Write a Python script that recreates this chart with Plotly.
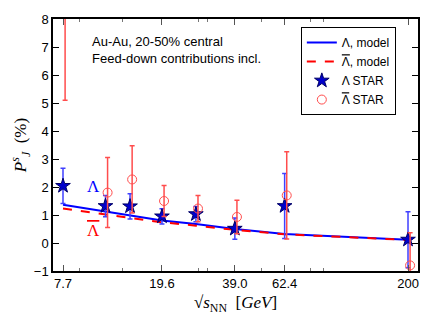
import plotly.graph_objects as go

# collision energies (GeV)
energy = [7.7, 11.5, 14.5, 19.6, 27, 39, 62.4, 200]

# model curves (%)
lam_model = [1.37, 1.12, 1.0, 0.8, 0.68, 0.5, 0.32, 0.12]
alam_model = [1.23, 1.02, 0.92, 0.74, 0.62, 0.47, 0.31, 0.11]

# STAR data (%)
lam_star = [2.04, 1.32, 1.31, 0.95, 1.03, 0.51, 1.32, 0.12]
lam_err = [0.63, 0.38, 0.45, 0.27, 0.27, 0.38, 1.16, 1.0]
alam_star = [8.7, 1.8, 2.27, 1.5, 1.23, 0.93, 1.7, -0.8]
alam_err = [3.6, 1.25, 1.2, 0.55, 0.47, 0.6, 1.56, 1.17]

tick_vals = [7.7, 19.6, 39.0, 62.4, 200]
tick_text = ["7.7", "19.6", "39.0", "62.4", "200"]
minor_vals = [9, 13.5, 27.6, 30, 50, 80, 90]

LAM_BAR = "<span style='text-decoration:overline'>\u039b</span>"

shift = 1.02
alam_x = [e * shift for e in energy]

fig = go.Figure()

fig.add_trace(go.Scatter(
    x=energy, y=lam_model, mode="lines",
    line=dict(color="#0000ff", width=2),
    name="\u039b, model"
))

fig.add_trace(go.Scatter(
    x=energy, y=alam_model, mode="lines",
    line=dict(color="#ff0000", width=2, dash="dash"),
    name=LAM_BAR + ", model"
))

fig.add_trace(go.Scatter(
    x=energy, y=lam_star, mode="markers",
    marker=dict(symbol="star", size=11, color="#0000cc", line=dict(color="#000066", width=1)),
    error_y=dict(type="data", array=lam_err, color="#4040ff", thickness=1.5, width=2.5),
    name="\u039b STAR"
))

fig.add_trace(go.Scatter(
    x=alam_x, y=alam_star, mode="markers",
    marker=dict(symbol="circle-open", size=9, color="#ff4d4d", line=dict(width=1)),
    error_y=dict(type="data", array=alam_err, color="#ff4d4d", thickness=1.5, width=2.5),
    name=LAM_BAR + " STAR"
))

fig.add_annotation(
    x=0.1, y=0.876, xref="paper", yref="paper", xanchor="left", yanchor="middle",
    text="Au-Au, 20-50% central<br>Feed-down contributions incl.",
    showarrow=False, align="left",
    font=dict(family="Liberation Sans, Arial", size=13, color="black")
)

fig.add_annotation(
    x=0.088, y=0.29, xref="paper", yref="paper",
    text="\u039b", showarrow=False,
    font=dict(family="Liberation Serif, Times New Roman", size=17, color="#0000ff")
)

fig.add_annotation(
    x=0.088, y=0.115, xref="paper", yref="paper",
    text=LAM_BAR, showarrow=False,
    font=dict(family="Liberation Serif, Times New Roman", size=17, color="#ff0000")
)

# page body adds an 8px offset, so the figure is 8px smaller on each side
fig.update_layout(
    width=424,
    height=316,
    margin=dict(l=45, r=14, t=11, b=53),
    paper_bgcolor="white",
    plot_bgcolor="white",
    font=dict(family="Liberation Sans, Arial", size=13, color="black"),
    showlegend=True,
    legend=dict(
        x=0.679, y=0.968, xanchor="left", yanchor="top",
        bordercolor="black", borderwidth=1, bgcolor="white",
        font=dict(family="Liberation Sans, Arial", size=12),
        traceorder="normal", tracegroupgap=0, itemwidth=30
    )
)

fig.update_xaxes(
    type="log",
    range=[0.8455, 2.342],
    tickvals=tick_vals,
    ticktext=tick_text,
    ticks="inside", ticklen=6, tickcolor="#555555",
    minor=dict(tickvals=minor_vals, ticks="inside", ticklen=3, tickcolor="#777777"),
    showline=True, linecolor="black", linewidth=1.5, mirror="ticks",
    showgrid=False, zeroline=False, automargin=False,
    tickfont=dict(size=13),
    title=dict(
        text="\u221a<i>s</i><sub>NN</sub>  [<i>GeV</i>]",
        font=dict(family="Liberation Serif, Times New Roman", size=17),
        standoff=6
    )
)

fig.update_yaxes(
    range=[-1, 8],
    dtick=1,
    ticks="inside", ticklen=6, tickcolor="black",
    showline=True, linecolor="black", linewidth=1.5, mirror="ticks",
    showgrid=False, zeroline=False, automargin=False,
    tickfont=dict(size=13),
    title=dict(
        text="<i>P</i><sup><i>s</i></sup><sub><i>J</i></sub>  (%)",
        font=dict(family="Liberation Serif, Times New Roman", size=17),
        standoff=8
    )
)

fig.write_html("out.html")
